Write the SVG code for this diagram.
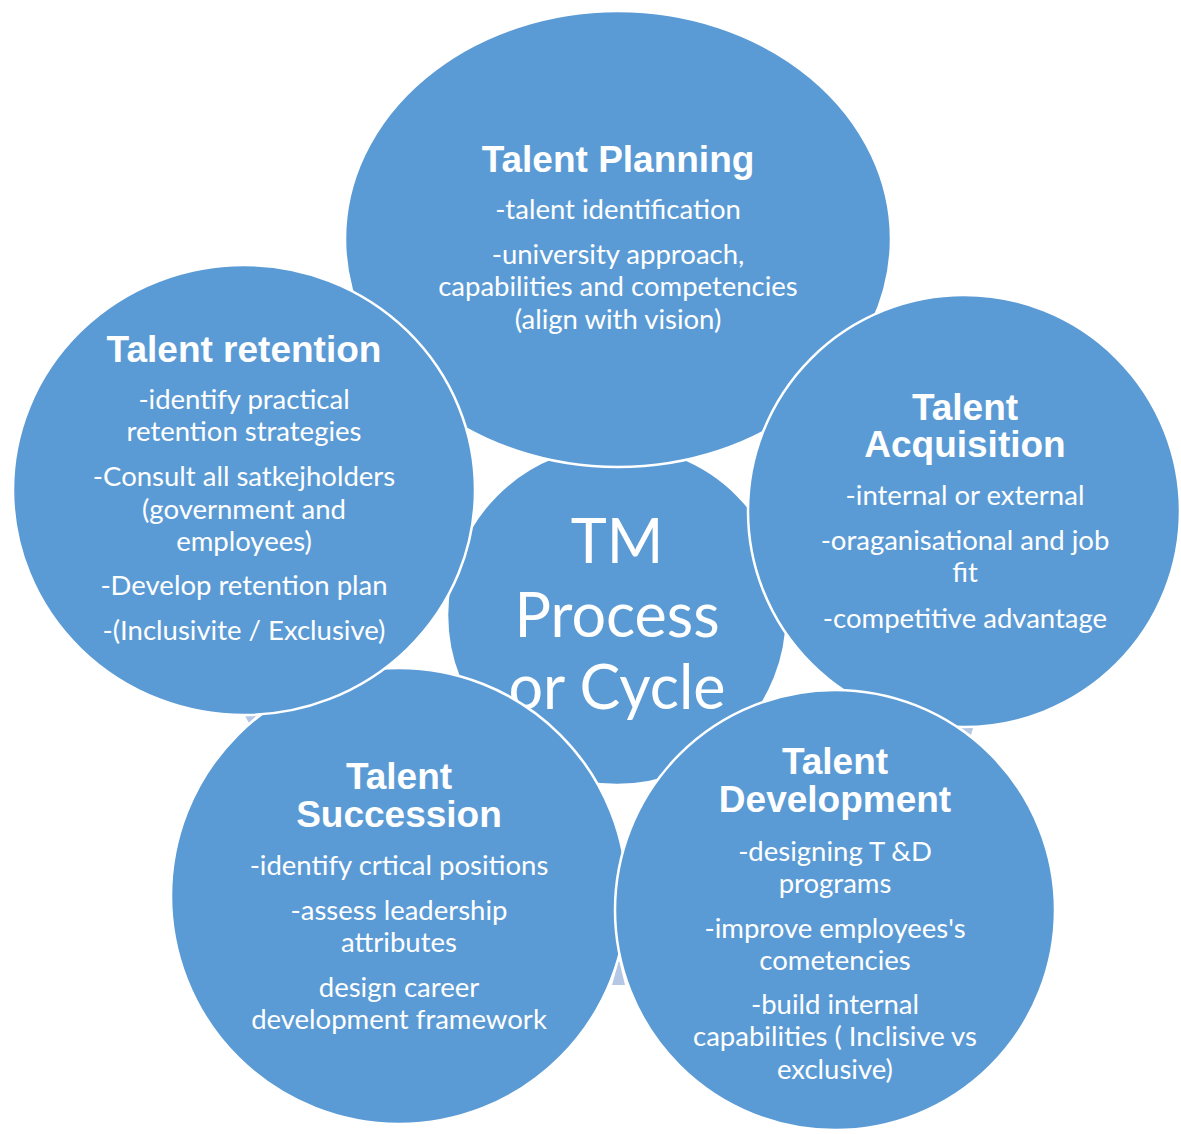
<svg xmlns="http://www.w3.org/2000/svg" width="1181" height="1134" viewBox="0 0 1181 1134">
  <style>
    .disc { fill: #5b9bd5; stroke: #ffffff; stroke-width: 2.5; }
    .head { font-family: "Liberation Sans", Arial, sans-serif; font-weight: bold; font-size: 37px; fill: #ffffff; text-anchor: middle; }
    .body { font-family: Lato, "Open Sans", sans-serif; font-size: 27.5px; fill: #ffffff; text-anchor: middle; }
    .hub { font-family: Lato, "Open Sans", sans-serif; font-size: 61px; fill: #ffffff; text-anchor: middle; }
    .tip { fill: #b4c8e6; }
  </style>
  <rect width="1181" height="1134" fill="#ffffff"/>

  <!-- cycle arrowheads, mostly hidden behind the discs -->
  <g id="connectors">
    <polygon class="tip" points="244,714 258,714 249,723"/>
    <polygon class="tip" points="961,728 973,728 971,735"/>
    <polygon class="tip" points="619,960 612,985 625,985"/>
  </g>

  <g id="hub">
    <circle class="disc" cx="617" cy="615" r="170"/>
    <text class="hub" x="617" y="563">TM</text>
    <text class="hub" x="617" y="637">Process</text>
    <text class="hub" x="617" y="709">or Cycle</text>
  </g>

  <g id="planning">
    <ellipse class="disc" cx="618" cy="239" rx="273" ry="228"/>
    <text class="head" x="618" y="172">Talent Planning</text>
    <text class="body" x="618" y="219">-talent identification</text>
    <text class="body" x="618" y="264">-university approach,</text>
    <text class="body" x="618" y="296">capabilities and competencies</text>
    <text class="body" x="618" y="329">(align with vision)</text>
  </g>

  <g id="succession">
    <circle class="disc" cx="399" cy="896" r="228"/>
    <text class="head" x="399" y="789">Talent</text>
    <text class="head" x="399" y="827">Succession</text>
    <text class="body" x="399" y="875">-identify crtical positions</text>
    <text class="body" x="399" y="920">-assess leadership</text>
    <text class="body" x="399" y="952">attributes</text>
    <text class="body" x="399" y="997">design career</text>
    <text class="body" x="399" y="1029">development framework</text>
  </g>

  <g id="acquisition">
    <circle class="disc" cx="964" cy="511" r="216"/>
    <text class="head" x="965" y="420">Talent</text>
    <text class="head" x="965" y="457">Acquisition</text>
    <text class="body" x="965" y="505">-internal or external</text>
    <text class="body" x="965" y="550">-oraganisational and job</text>
    <text class="body" x="965" y="582">fit</text>
    <text class="body" x="965" y="628">-competitive advantage</text>
  </g>

  <g id="development">
    <circle class="disc" cx="835" cy="910" r="220"/>
    <text class="head" x="835" y="774">Talent</text>
    <text class="head" x="835" y="812">Development</text>
    <text class="body" x="835" y="861">-designing T &amp;D</text>
    <text class="body" x="835" y="893">programs</text>
    <text class="body" x="835" y="938">-improve employees's</text>
    <text class="body" x="835" y="970">cometencies</text>
    <text class="body" x="835" y="1014">-build internal</text>
    <text class="body" x="835" y="1046">capabilities ( Inclisive vs</text>
    <text class="body" x="835" y="1079">exclusive)</text>
  </g>

  <g id="retention">
    <ellipse class="disc" cx="244" cy="490" rx="231" ry="225"/>
    <text class="head" x="244" y="362">Talent retention</text>
    <text class="body" x="244" y="409">-identify practical</text>
    <text class="body" x="244" y="441">retention strategies</text>
    <text class="body" x="244" y="486">-Consult all satkejholders</text>
    <text class="body" x="244" y="519">(government and</text>
    <text class="body" x="244" y="551">employees)</text>
    <text class="body" x="244" y="595">-Develop retention plan</text>
    <text class="body" x="244" y="640">-(Inclusivite / Exclusive)</text>
  </g>
</svg>
